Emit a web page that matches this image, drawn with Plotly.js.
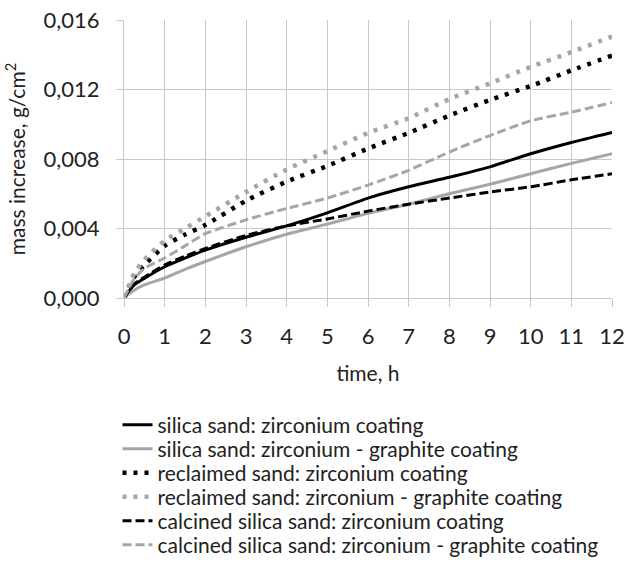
<!DOCTYPE html>
<html>
<head>
<meta charset="utf-8">
<script src="https://cdn.plot.ly/plotly-3.0.1.min.js"></script>
<style>html,body{margin:0;padding:0;background:#fff;}#chart{width:626px;height:572px;}</style>
</head>
<body>
<div id="chart"></div>
<script>
// time, h
var timeH = [0, 0.25, 0.5, 1, 1.5, 2, 3, 4, 5, 6, 7, 8, 9, 10, 11, 12];
// mass increase, g/cm2
var silicaZr      = [0, 0.00075, 0.00113, 0.00180, 0.00230, 0.00276, 0.00350, 0.00415, 0.00490, 0.00575, 0.00640, 0.00695, 0.00755, 0.00830, 0.00895, 0.00953];
var silicaZrGr    = [0, 0.00045, 0.00075, 0.00115, 0.00165, 0.00210, 0.00295, 0.00367, 0.00425, 0.00487, 0.00540, 0.00600, 0.00655, 0.00715, 0.00775, 0.00830];
var reclaimedZr   = [0, 0.00120, 0.00190, 0.00300, 0.00365, 0.00420, 0.00560, 0.00670, 0.00760, 0.00860, 0.00950, 0.01050, 0.01140, 0.01220, 0.01310, 0.01395];
var reclaimedZrGr = [0, 0.00140, 0.00220, 0.00330, 0.00400, 0.00470, 0.00610, 0.00740, 0.00845, 0.00950, 0.01035, 0.01145, 0.01235, 0.01330, 0.01415, 0.01505];
var calcinedZr    = [0, 0.00080, 0.00120, 0.00190, 0.00240, 0.00285, 0.00360, 0.00415, 0.00455, 0.00500, 0.00540, 0.00575, 0.00610, 0.00640, 0.00680, 0.00715];
var calcinedZrGr  = [0, 0.00110, 0.00170, 0.00230, 0.00300, 0.00370, 0.00450, 0.00515, 0.00575, 0.00650, 0.00735, 0.00840, 0.00935, 0.01020, 0.01070, 0.01125];

var seriesNames = [
  "silica sand: zirconium coating",
  "silica sand: zirconium - graphite coating",
  "reclaimed sand: zirconium coating",
  "reclaimed sand: zirconium - graphite coating",
  "calcined silica sand: zirconium coating",
  "calcined silica sand: zirconium - graphite coating"
];
var seriesData = [silicaZr, silicaZrGr, reclaimedZr, reclaimedZrGr, calcinedZr, calcinedZrGr];
var xTickVals = [0,1,2,3,4,5,6,7,8,9,10,11,12];

var BLACK = "#000000", GRAY = "#a6a6a6";
var styles = [
  {color: BLACK, width: 3, dash: "solid"},
  {color: GRAY,  width: 3, dash: "solid"},
  {color: BLACK, width: 4.5, dash: "4px,7px"},
  {color: GRAY,  width: 4.5, dash: "4px,7px"},
  {color: BLACK, width: 3, dash: "9px,4px"},
  {color: GRAY,  width: 3, dash: "9px,4px"}
];

var legendIds = ["legend", "legend2", "legend3", "legend4", "legend5", "legend6"];
var traces = seriesData.map(function(d, i) {
  return {
    x: timeH, y: d, name: seriesNames[i], type: "scatter", mode: "lines",
    legend: legendIds[i],
    line: {color: styles[i].color, width: styles[i].width, dash: styles[i].dash, shape: "spline", smoothing: 0.6}
  };
});

var FONT = "Lato, 'Open Sans', sans-serif";
var TXT = "#222222";
var layout = {
  width: 626, height: 572,
  margin: {l: 124, r: 14, t: 20, b: 274},
  paper_bgcolor: "#ffffff", plot_bgcolor: "#ffffff",
  separators: ",.",
  font: {family: FONT, size: 21, color: TXT},
  showlegend: true,
  xaxis: {
    range: [0, 12], tickvals: xTickVals, ticktext: xTickVals.map(String),
    showgrid: true, gridcolor: "#c8c8c8", gridwidth: 1,
    showline: true, linecolor: "#c8c8c8", linewidth: 1,
    ticks: "outside", ticklen: 8, tickcolor: "#c8c8c8",
    ticklabelstandoff: 11,
    zeroline: false, fixedrange: true,
    tickfont: {family: FONT, size: 22, color: TXT},
    title: {text: "time, h", font: {family: FONT, size: 21, color: TXT}, standoff: 17}
  },
  yaxis: {
    range: [0, 0.016], dtick: 0.004, tick0: 0, tickformat: ".3f",
    showgrid: true, gridcolor: "#c8c8c8", gridwidth: 1,
    showline: true, linecolor: "#c8c8c8", linewidth: 1,
    ticks: "outside", ticklen: 7, tickcolor: "#c8c8c8",
    ticklabelstandoff: 12,
    zeroline: false, fixedrange: true,
    tickfont: {family: FONT, size: 22, color: TXT},
    title: {text: "mass increase, g/cm<sup>2</sup>", font: {family: FONT, size: 21, color: TXT}, standoff: 12}
  }
};

var rowCenters = [425, 449, 473, 497, 521, 545];
legendIds.forEach(function(id, i) {
  layout[id] = {
    x: -0.0133, xanchor: "left", xref: "paper",
    y: 1 - rowCenters[i] / 572, yanchor: "middle", yref: "container",
    font: {family: FONT, size: 21, color: TXT},
    itemwidth: 30, bgcolor: "rgba(0,0,0,0)", borderwidth: 0
  };
});

Plotly.newPlot("chart", traces, layout, {displayModeBar: false, staticPlot: true});
</script>
</body>
</html>
